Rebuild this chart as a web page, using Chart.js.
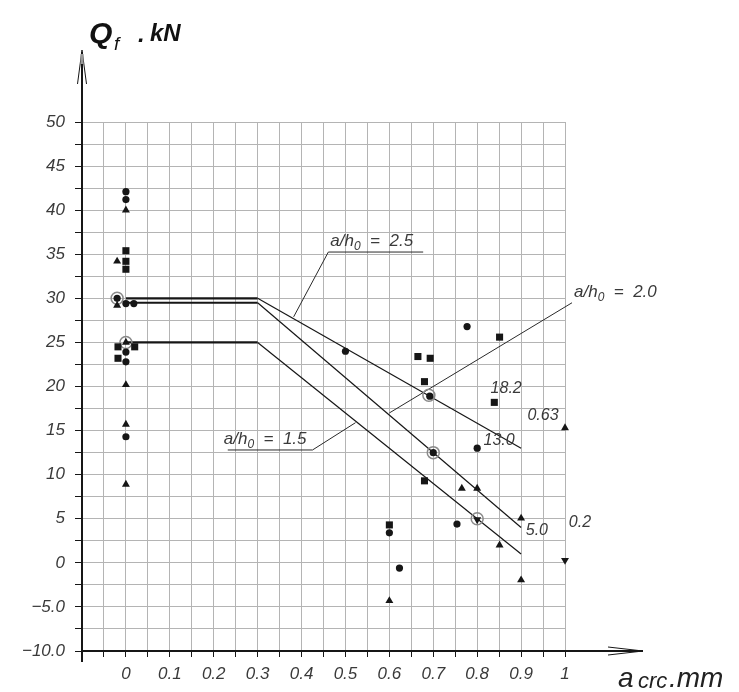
<!DOCTYPE html>
<html>
<head>
<meta charset="utf-8">
<script src="https://cdn.jsdelivr.net/npm/chart.js@4.4.1/dist/chart.umd.min.js"></script>
<style>
  html, body { margin: 0; padding: 0; background: #fff; }
  canvas { display: block; }
</style>
</head>
<body>
<canvas id="qfChart" width="739" height="692"></canvas>
<script>
// tick labels
var xTickValues = [0, 0.1, 0.2, 0.3, 0.4, 0.5, 0.6, 0.7, 0.8, 0.9, 1];
var xTickLabels = ['0', '0.1', '0.2', '0.3', '0.4', '0.5', '0.6', '0.7', '0.8', '0.9', '1'];
var yTickValues = [50, 45, 40, 35, 30, 25, 20, 15, 10, 5, 0, -5, -10];
var yTickLabels = ['50', '45', '40', '35', '30', '25', '20', '15', '10', '5', '0', '\u22125.0', '\u221210.0'];

// test points [a_crc, Qf]
var circles = [[0, 42.1], [0, 41.2], [0, 29.4], [0.018, 29.4], [-0.02, 30.0], [0, 23.9], [0, 22.8], [0, 14.3],
               [0.5, 24.0], [0.777, 26.8], [0.692, 18.9], [0.80, 13.0], [0.70, 12.5], [0.754, 4.4],
               [0.623, -0.6], [0.60, 3.4]];
var squares = [[0, 35.4], [0, 34.2], [0, 33.3], [-0.018, 24.5], [0.02, 24.5], [-0.018, 23.2],
               [0.851, 25.6], [0.665, 23.4], [0.693, 23.2], [0.68, 20.55], [0.839, 18.2], [0.68, 9.3], [0.60, 4.3]];
var triangles = [[0, 40.0], [-0.02, 34.2], [-0.02, 29.2], [0, 25.0], [0, 20.2], [0, 15.7], [0, 8.9],
                 [1.0, 15.3], [0.765, 8.45], [0.80, 8.45], [0.9, 5.05], [0.851, 2.0], [0.9, -1.95], [0.60, -4.3]];
var downTriangles = [[0.8, 4.9], [1.0, 0.3]];
var rings = [[-0.02, 30], [0, 25], [0.69, 19], [0.70, 12.5], [0.8, 5]];

// design lines a/h0 = 2.5, 2.0, 1.5
var line25 = [[0, 30], [0.3, 30], [0.9, 13.0]];
var line20 = [[0, 29.5], [0.3, 29.5], [0.9, 4.0]];
var line15 = [[0, 25], [0.3, 25], [0.9, 1.0]];

// leader lines for the a/h0 labels
var ratioLabels = ['2.5', '2.0', '1.5'];
var leader25 = [[0.382, 27.9], [0.461, 35.25], [0.677, 35.25]];
var leader20 = [[0.60, 17.0], [1.016, 29.5], [1.239, 29.5]];
var leader15 = [[0.523, 15.9], [0.425, 12.8], [0.232, 12.8]];

// small numbers next to the line ends
var endLabels = ['18.2', '0.63', '13.0', '5.0', '0.2'];
var endLabelPos = [[0.866, 19.8], [0.95, 16.65], [0.85, 13.9], [0.936, 3.7], [1.034, 4.6]];

function toXY(arr) {
    return arr.map(function (p) { return { x: p[0], y: p[1] }; });
}

function findLabel(values, labels, v) {
    for (var i = 0; i < values.length; i++) {
        if (Math.abs(values[i] - v) < 1e-6) return labels[i];
    }
    return '';
}

var INK = '#161616';
var TEXT = '#3a3a3a';

function markSet(data, style, radius, rot) {
    return {
        data: toXY(data),
        pointStyle: style,
        pointRadius: radius,
        rotation: rot || 0,
        backgroundColor: INK,
        borderColor: INK,
        borderWidth: 0,
        showLine: false,
        clip: false
    };
}

function designLine(data) {
    return {
        data: toXY(data),
        showLine: true,
        pointRadius: 0,
        borderColor: INK,
        borderWidth: 1.2,
        segment: {
            borderWidth: function (ctx) { return ctx.p0DataIndex === 0 ? 2.2 : 1.2; }
        },
        clip: false
    };
}

function leaderLine(data) {
    return {
        data: toXY(data),
        showLine: true,
        pointRadius: 0,
        borderColor: '#2a2a2a',
        borderWidth: 1,
        clip: false
    };
}

var decorPlugin = {
    id: 'decor',
    afterDraw: function (chart) {
        var ctx = chart.ctx;
        var ca = chart.chartArea;
        var xs = chart.scales.x, ys = chart.scales.y;
        ctx.save();

        // axis extensions + arrows
        ctx.strokeStyle = INK;
        ctx.lineWidth = 2;
        ctx.beginPath();
        ctx.moveTo(ca.left, ca.bottom + 11);
        ctx.lineTo(ca.left, 52);
        ctx.moveTo(ca.right, ca.bottom);
        ctx.lineTo(643, ca.bottom);
        ctx.stroke();
        ctx.lineWidth = 1;
        ctx.beginPath();
        ctx.moveTo(ca.left - 4.5, 84);
        ctx.lineTo(ca.left, 50);
        ctx.lineTo(ca.left + 4.5, 84);
        ctx.moveTo(608, ca.bottom - 4);
        ctx.lineTo(643, ca.bottom);
        ctx.lineTo(608, ca.bottom + 4);
        ctx.stroke();
        ctx.fillStyle = '#999';
        ctx.fillRect(ca.left - 1.5, 54, 3, 10);

        // y title  Qf . kN
        ctx.fillStyle = '#111';
        ctx.textBaseline = 'alphabetic';
        ctx.textAlign = 'left';
        ctx.font = 'italic bold 30px "Liberation Sans"';
        ctx.fillText('Q', 89, 43);
        ctx.font = 'italic 19px "Liberation Sans"';
        ctx.fillText('f', 114, 50);
        ctx.font = 'italic bold 24px "Liberation Sans"';
        ctx.fillText('.', 138, 42);
        ctx.fillText('kN', 150, 41);

        // x title  acrc.mm
        ctx.fillStyle = '#222';
        ctx.font = 'italic 28px "Liberation Sans"';
        ctx.fillText('a', 618, 687);
        ctx.font = 'italic 22px "Liberation Sans"';
        ctx.fillText('crc', 638, 688);
        ctx.font = 'italic 28px "Liberation Sans"';
        ctx.fillText('.mm', 669, 687);

        // a/h0 labels above the leader shelves
        var leaders = [leader25, leader20, leader15];
        ctx.fillStyle = TEXT;
        leaders.forEach(function (ld, i) {
            var a = ld[1], b = ld[2];
            var x0 = xs.getPixelForValue(Math.min(a[0], b[0]));
            var yb = ys.getPixelForValue(a[1]) - 6;
            var x = x0 + (i === 2 ? -4 : 2);
            ctx.font = 'italic 17px "Liberation Sans"';
            ctx.fillText('a/h', x, yb);
            x += ctx.measureText('a/h').width;
            ctx.font = 'italic 12px "Liberation Sans"';
            ctx.fillText('0', x, yb + 4);
            x += ctx.measureText('0').width;
            ctx.font = 'italic 17px "Liberation Sans"';
            ctx.fillText('  =  ' + ratioLabels[i], x, yb);
        });

        // end labels
        ctx.font = 'italic 16px "Liberation Sans"';
        ctx.textAlign = 'center';
        ctx.textBaseline = 'middle';
        endLabels.forEach(function (t, i) {
            ctx.fillText(t, xs.getPixelForValue(endLabelPos[i][0]), ys.getPixelForValue(endLabelPos[i][1]));
        });

        ctx.restore();
    }
};

var tickFont = { family: '"Liberation Sans"', size: 17, style: 'italic' };

new Chart(document.getElementById('qfChart').getContext('2d'), {
    type: 'scatter',
    data: {
        datasets: [
            markSet(circles, 'circle', 3.6),
            markSet(squares, 'rect', 5),
            markSet(triangles, 'triangle', 4.6),
            markSet(downTriangles, 'triangle', 4.6, 180),
            {
                data: toXY(rings),
                pointStyle: 'circle',
                pointRadius: 6,
                backgroundColor: 'rgba(0,0,0,0)',
                borderColor: '#8a8a8a',
                borderWidth: 1.5,
                showLine: false,
                clip: false
            },
            designLine(line25),
            designLine(line20),
            designLine(line15),
            leaderLine(leader25),
            leaderLine(leader20),
            leaderLine(leader15)
        ]
    },
    options: {
        responsive: false,
        animation: false,
        events: [],
        layout: { padding: { top: 122, right: 174, left: 0, bottom: 0 } },
        plugins: { legend: { display: false }, tooltip: { enabled: false } },
        scales: {
            x: {
                type: 'linear',
                min: -0.1,
                max: 1.0,
                afterBuildTicks: function (scale) {
                    var t = [];
                    for (var i = 0; i <= 22; i++) t.push({ value: (i - 2) * 5 / 100 });
                    scale.ticks = t;
                },
                afterFit: function (scale) { scale.height = 41; },
                grid: { color: '#b4b4b4', lineWidth: 1, tickColor: INK, tickLength: 6, tickWidth: 1 },
                border: { display: true, color: INK, width: 2 },
                ticks: {
                    autoSkip: false,
                    maxRotation: 0,
                    padding: 7,
                    color: TEXT,
                    font: tickFont,
                    callback: function (v) { return findLabel(xTickValues, xTickLabels, v); }
                }
            },
            y: {
                type: 'linear',
                min: -10,
                max: 50,
                afterBuildTicks: function (scale) {
                    var t = [];
                    for (var i = 0; i <= 24; i++) t.push({ value: -10 + i * 2.5 });
                    scale.ticks = t;
                },
                afterFit: function (scale) { scale.width = 82; },
                grid: { color: '#b4b4b4', lineWidth: 1, tickColor: INK, tickLength: 7, tickWidth: 1 },
                border: { display: true, color: INK, width: 2 },
                ticks: {
                    autoSkip: false,
                    padding: 10,
                    color: TEXT,
                    font: tickFont,
                    callback: function (v) { return findLabel(yTickValues, yTickLabels, v); }
                }
            }
        }
    },
    plugins: [decorPlugin]
});
</script>
</body>
</html>
